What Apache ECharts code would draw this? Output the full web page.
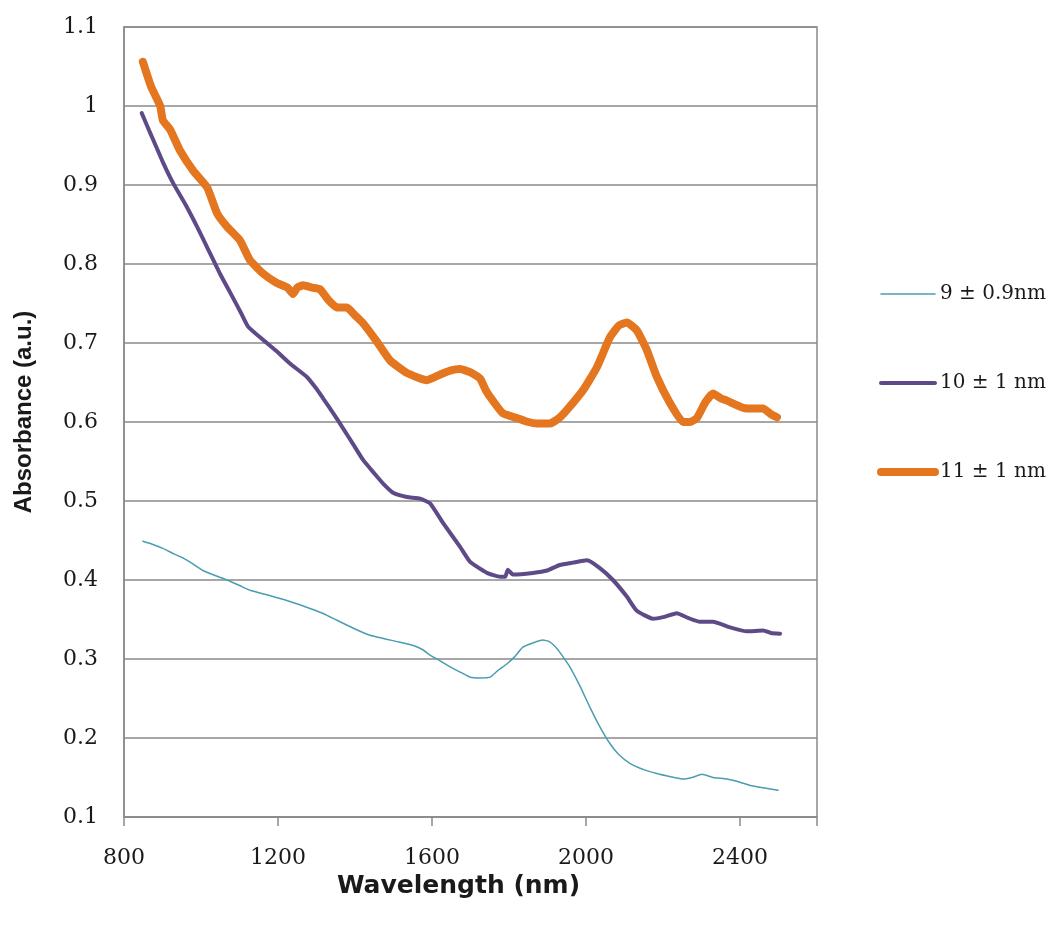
<!DOCTYPE html>
<html>
<head>
<meta charset="utf-8">
<script src="https://cdn.jsdelivr.net/npm/echarts@6/dist/echarts.min.js"></script>
<style>
  html, body { margin: 0; padding: 0; background: #ffffff; }
  #chart { width: 1052px; height: 925px; }
</style>
</head>
<body>
<div id="chart"></div>
<script>
// Absorbance spectra of three particle sizes, wavelength in nm
const seriesNames = ['9 ± 0.9nm', '10 ± 1 nm', '11 ± 1 nm'];

const xTicks = [800, 1200, 1600, 2000, 2400];
const yTicks = [0.1, 0.2, 0.3, 0.4, 0.5, 0.6, 0.7, 0.8, 0.9, 1, 1.1];

const size9 = [
  [849,0.449],[875,0.445],[901,0.440],[930,0.433],[953,0.428],[980,0.420],[1005,0.412],
  [1040,0.405],[1068,0.400],[1100,0.393],[1127,0.387],[1180,0.380],[1223,0.374],[1283,0.364],
  [1320,0.357],[1353,0.349],[1400,0.338],[1439,0.330],[1509,0.322],[1551,0.317],[1575,0.312],
  [1595,0.305],[1620,0.298],[1647,0.290],[1675,0.283],[1699,0.277],[1725,0.276],[1751,0.277],
  [1770,0.285],[1795,0.294],[1815,0.303],[1836,0.315],[1860,0.320],[1888,0.324],[1905,0.322],
  [1925,0.313],[1940,0.303],[1958,0.290],[1985,0.265],[2010,0.239],[2035,0.215],[2062,0.193],
  [2085,0.179],[2114,0.168],[2150,0.160],[2184,0.155],[2220,0.151],[2252,0.148],[2275,0.150],
  [2301,0.154],[2330,0.150],[2366,0.148],[2400,0.144],[2426,0.140],[2460,0.137],[2499,0.134]
];

const size10 = [
  [846,0.991],[860,0.975],[876,0.957],[900,0.930],[928,0.902],[960,0.875],[990,0.847],
  [1020,0.817],[1049,0.788],[1080,0.760],[1105,0.737],[1122,0.721],[1161,0.704],[1200,0.688],
  [1231,0.674],[1275,0.657],[1300,0.642],[1317,0.630],[1345,0.610],[1369,0.592],[1395,0.572],
  [1421,0.552],[1450,0.535],[1473,0.522],[1500,0.510],[1535,0.505],[1569,0.503],[1595,0.497],
  [1629,0.472],[1673,0.442],[1699,0.423],[1743,0.409],[1777,0.404],[1790,0.404],[1797,0.413],
  [1810,0.407],[1862,0.409],[1899,0.412],[1932,0.419],[1966,0.422],[2003,0.425],[2036,0.415],
  [2070,0.400],[2106,0.379],[2132,0.361],[2174,0.351],[2200,0.353],[2236,0.358],[2265,0.352],
  [2296,0.347],[2330,0.347],[2374,0.340],[2418,0.335],[2460,0.336],[2480,0.333],[2504,0.332]
];

const size11 = [
  [849,1.056],[870,1.025],[894,1.000],[901,0.982],[920,0.970],[945,0.944],[980,0.918],
  [1016,0.897],[1042,0.864],[1068,0.847],[1101,0.830],[1127,0.805],[1161,0.788],[1197,0.776],
  [1225,0.770],[1239,0.762],[1250,0.770],[1265,0.773],[1290,0.770],[1309,0.768],[1330,0.755],
  [1353,0.745],[1379,0.745],[1400,0.735],[1421,0.725],[1455,0.703],[1491,0.678],[1535,0.662],
  [1587,0.653],[1621,0.660],[1647,0.665],[1673,0.667],[1699,0.663],[1725,0.655],[1740,0.640],
  [1758,0.627],[1784,0.611],[1821,0.605],[1850,0.600],[1873,0.598],[1906,0.598],[1930,0.605],
  [1950,0.615],[1992,0.640],[2028,0.669],[2062,0.707],[2085,0.722],[2106,0.726],[2132,0.716],
  [2158,0.691],[2184,0.657],[2218,0.624],[2252,0.600],[2270,0.600],[2288,0.605],[2310,0.625],
  [2330,0.636],[2350,0.630],[2366,0.627],[2408,0.618],[2440,0.617],[2460,0.617],[2480,0.610],
  [2496,0.606]
];

const colors = ['#4A9DB0', '#5E4A86', '#E3761F'];
const widths = [1.5, 4, 8];
const axisGrey = '#8a8a8a';
const labelFont = '"DejaVu Serif", serif';

const chart = echarts.init(document.getElementById('chart'), null, { renderer: 'canvas' });

chart.setOption({
  backgroundColor: '#ffffff',
  animation: false,
  grid: {
    left: 124, top: 27, right: 235, bottom: 108,
    show: true, borderColor: axisGrey, borderWidth: 1.5, backgroundColor: 'transparent'
  },
  legend: {
    orient: 'vertical',
    left: 872,
    top: 279,
    itemWidth: 54,
    itemHeight: 14,
    itemGap: 69,
    itemStyle: { opacity: 0 },
    textStyle: { fontFamily: labelFont, fontSize: 20, color: '#1a1a1a' },
    data: seriesNames.map((n, i) => ({
      name: n,
      lineStyle: { width: widths[i], color: colors[i], cap: 'round' }
    }))
  },
  xAxis: {
    type: 'value',
    min: xTicks[0],
    max: 2600,
    interval: 400,
    name: 'Wavelength (nm)',
    nameLocation: 'middle',
    nameGap: 56,
    nameTextStyle: {
      fontFamily: '"DejaVu Sans", sans-serif', fontWeight: 'bold', fontSize: 25, color: '#1a1a1a',
      padding: [0, 24, 0, 0]
    },
    axisLine: { show: true, lineStyle: { color: axisGrey, width: 1.5 } },
    axisTick: { show: true, inside: false, length: 9, lineStyle: { color: axisGrey, width: 1.5 } },
    axisLabel: {
      margin: 30,
      fontFamily: labelFont, fontSize: 22, color: '#1a1a1a',
      formatter: v => (xTicks.indexOf(v) >= 0 ? String(v) : '')
    },
    splitLine: { show: false }
  },
  yAxis: {
    type: 'value',
    min: yTicks[0],
    max: yTicks[yTicks.length - 1],
    interval: 0.1,
    name: 'Absorbance (a.u.)',
    nameLocation: 'middle',
    nameGap: 88,
    nameTextStyle: {
      fontFamily: '"Liberation Sans", sans-serif', fontWeight: 'bold', fontSize: 24, color: '#1a1a1a',
      padding: [0, 0, 0, 20]
    },
    axisLine: { show: true, lineStyle: { color: axisGrey, width: 1.5 } },
    axisTick: { show: false },
    axisLabel: {
      margin: 26,
      fontFamily: labelFont, fontSize: 22, color: '#1a1a1a',
      formatter: v => {
        const t = yTicks.find(y => Math.abs(y - v) < 1e-6);
        return t === undefined ? '' : String(t);
      }
    },
    splitLine: { show: true, lineStyle: { color: axisGrey, width: 1.5 } }
  },
  series: [size9, size10, size11].map((d, i) => ({
    name: seriesNames[i],
    type: 'line',
    data: d,
    symbol: 'none',
    smooth: 0.15,
    color: colors[i],
    lineStyle: { color: colors[i], width: widths[i], cap: 'round', join: 'round' },
    z: 2 + i
  }))
});
</script>
</body>
</html>
